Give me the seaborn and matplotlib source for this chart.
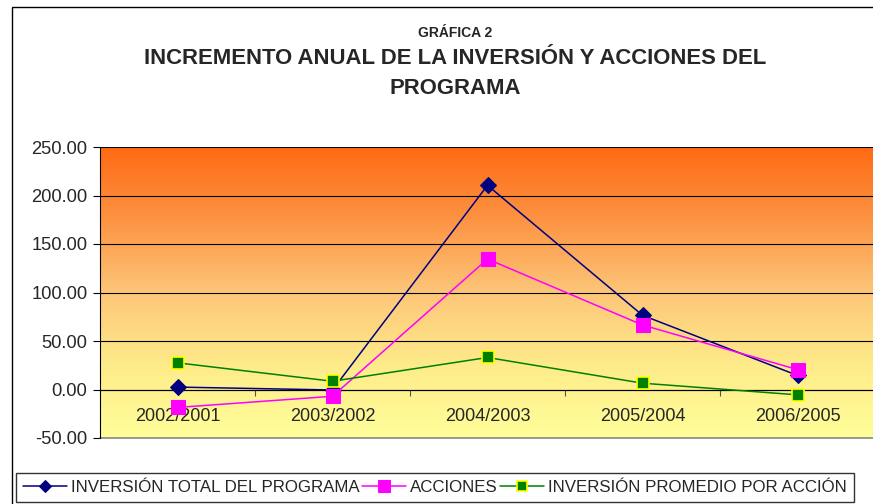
import numpy as np
import pandas as pd
import seaborn as sns
import matplotlib.pyplot as plt
from matplotlib.patches import Rectangle
from matplotlib.colors import LinearSegmentedColormap

# Data
periodos = ['2002/2001', '2003/2002', '2004/2003', '2005/2004', '2006/2005']
inversion_total = [2.5, -0.5, 210.5, 76.5, 14.5]
acciones = [-18.5, -7.0, 134.5, 66.5, 20.5]
inversion_promedio = [27.5, 8.5, 33.0, 6.5, -5.5]
etiquetas = ['INVERSIÓN TOTAL DEL PROGRAMA', 'ACCIONES',
             'INVERSIÓN PROMEDIO POR ACCIÓN']
y_ticks = [-50, 0, 50, 100, 150, 200, 250]

sns.set_style('white')
plt.rcParams['font.family'] = ['Liberation Sans', 'DejaVu Sans']

fig = plt.figure(figsize=(8.73, 5.04), dpi=100)
ax = fig.add_axes([100 / 873, 66 / 504, 775 / 873, 291 / 504])

# gradient background of the plot area
grad = LinearSegmentedColormap.from_list(
    'bg', ['#FFFF99', '#FEEB8A', '#FDC678', '#FC9443', '#FF6A14'])
ax.imshow(np.linspace(0, 1, 256).reshape(-1, 1), cmap=grad, aspect='auto',
          extent=[-0.5, 4.5, -50, 250], origin='lower', zorder=0)

sns.lineplot(x=periodos, y=inversion_total, ax=ax, color='#000080',
             marker='D', markersize=8, markeredgecolor='#000080',
             linewidth=1.1, label=etiquetas[0], zorder=3)
sns.lineplot(x=periodos, y=acciones, ax=ax, color='#FF00FF',
             marker='s', markersize=10, markeredgecolor='#FF00FF',
             linewidth=1.1, label=etiquetas[1], zorder=4)
sns.lineplot(x=periodos, y=inversion_promedio, ax=ax, color='#008000',
             marker='s', markersize=9, markeredgecolor='#FFFF00',
             markeredgewidth=1.2, linewidth=1.1, label=etiquetas[2], zorder=5)

ax.set_xlim(-0.5, 4.5)
ax.set_ylim(-50, 250)
ax.set_yticks(y_ticks)
ax.set_yticklabels([f'{v:.2f}' for v in y_ticks], fontsize=13.2)
for v in y_ticks[1:]:
    ax.axhline(v, color='black', linewidth=0.8, zorder=1)

# x axis crosses at zero
ax.spines['bottom'].set_position(('data', 0))
ax.spines['bottom'].set_color('black')
ax.spines['bottom'].set_linewidth(0.8)
ax.set_xticks(range(len(periodos)))
ax.set_xticklabels(periodos, fontsize=13)
ax.set_xticks(np.arange(0.5, len(periodos) - 0.5, 1), minor=True)
ax.tick_params(axis='x', which='major', length=0, pad=13)
ax.tick_params(axis='x', which='minor', length=4, width=0.8, color='#555555',
               direction='out', bottom=True)
ax.tick_params(axis='y', length=5, width=0.8, color='black', left=True,
               direction='out', pad=4)
ax.spines['left'].set_color('black')
ax.spines['left'].set_linewidth(0.8)
ax.spines['top'].set_visible(False)
ax.spines['right'].set_color('#888888')
ax.axhline(-50, color='#888888', linewidth=1.2, zorder=2, clip_on=False)
ax.set_xlabel('')
ax.set_ylabel('')
ax.get_legend().remove()

# titles
fig.text(455 / 873, 1 - 33 / 504, 'GRÁFICA 2', ha='center', va='center',
         fontsize=10, fontweight='bold')
fig.text(455 / 873, 1 - 59 / 504,
         'INCREMENTO ANUAL DE LA INVERSIÓN Y ACCIONES DEL',
         ha='center', va='center', fontsize=15.9, fontweight='bold')
fig.text(455 / 873, 1 - 88 / 504, 'PROGRAMA', ha='center', va='center',
         fontsize=15.9, fontweight='bold')

# outer chart border
fig.patches.append(Rectangle((12 / 873, -0.1), 1.0, 1 - 7 / 504 + 0.1,
                             transform=fig.transFigure, fill=False,
                             edgecolor='black', linewidth=1.0))

handles, labels = ax.get_legend_handles_labels()
leg = fig.legend(handles, labels, loc='lower left', ncol=3,
                 bbox_to_anchor=(16 / 873, 2 / 504), fontsize=12.2,
                 frameon=True, fancybox=False, edgecolor='black',
                 handlelength=2.6, handletextpad=0.25, columnspacing=0.12,
                 borderpad=0.42, borderaxespad=0, markerscale=0.8)
leg.get_frame().set_linewidth(1.0)

fig.savefig('out.png', dpi=100)
